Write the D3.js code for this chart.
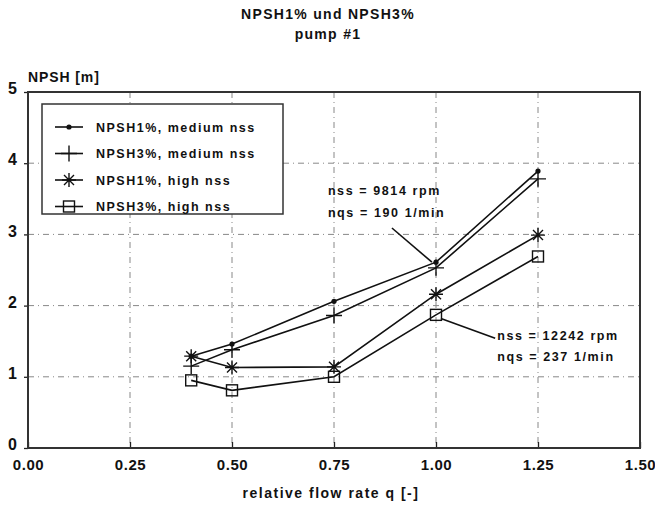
<!DOCTYPE html>
<html><head><meta charset="utf-8">
<script src="https://cdn.jsdelivr.net/npm/d3@7"></script>
<style>
body{margin:0;background:#fff;}
text{font-family:"Liberation Sans",Arial,sans-serif;font-weight:bold;fill:#111;}
</style></head><body>
<svg id="c" width="655" height="507"></svg>
<script>
const flowRates = [0.4, 0.5, 0.75, 1.0, 1.25];
const npsh1Medium = [1.29, 1.46, 2.06, 2.61, 3.89];
const npsh3Medium = [1.15, 1.38, 1.86, 2.53, 3.78];
const npsh1High = [1.29, 1.13, 1.14, 2.16, 2.99];
const npsh3High = [0.95, 0.81, 1.00, 1.87, 2.69];
const seriesNames = ["NPSH1%, medium nss", "NPSH3%, medium nss", "NPSH1%, high nss", "NPSH3%, high nss"];
const seriesMarkers = ["dot", "plus", "star", "square"];
const xTicks = [0, 0.25, 0.5, 0.75, 1.0, 1.25, 1.5];
const yTicks = [0, 1, 2, 3, 4, 5];

const svg = d3.select("#c");
const L = 28, R = 640, T = 92, B = 448;
const x = d3.scaleLinear().domain([0, 1.5]).range([L, R]);
const y = d3.scaleLinear().domain([0, 5]).range([B, T]);

// titles
svg.append("text").attr("x", 328).attr("y", 19).attr("text-anchor", "middle")
  .style("font-size", "14px").style("letter-spacing", "1.3px").text("NPSH1% und NPSH3%");
svg.append("text").attr("x", 328).attr("y", 39).attr("text-anchor", "middle")
  .style("font-size", "14px").style("letter-spacing", "1.3px").text("pump #1");
svg.append("text").attr("x", 28).attr("y", 82)
  .style("font-size", "14px").style("letter-spacing", "0.9px").text("NPSH [m]");
svg.append("text").attr("x", 331).attr("y", 498).attr("text-anchor", "middle")
  .style("font-size", "14px").style("letter-spacing", "1.5px").text("relative flow rate q [-]");

// grid
const g = svg.append("g");
g.selectAll(".gx").data(xTicks.filter(d => d > 0 && d < 1.5)).enter().append("line")
  .attr("x1", d => x(d)).attr("x2", d => x(d)).attr("y1", T).attr("y2", B)
  .attr("stroke", "#888").attr("stroke-width", 1).attr("stroke-dasharray", "6,4,1,4");
g.selectAll(".gy").data(yTicks.filter(d => d > 0 && d < 5)).enter().append("line")
  .attr("x1", L).attr("x2", R).attr("y1", d => y(d)).attr("y2", d => y(d))
  .attr("stroke", "#888").attr("stroke-width", 1).attr("stroke-dasharray", "6,4,1,4");

// axes via d3
const xAxis = d3.axisBottom(x).tickValues(xTicks).tickFormat(d3.format(".2f")).tickSize(-6).tickPadding(11);
const xa = svg.append("g").attr("transform", `translate(0,${B})`).call(xAxis);
xa.select(".domain").remove();
xa.selectAll("line").attr("stroke", "#222").attr("stroke-width", 1.3);
xa.selectAll("text").style("font-size", "15px").style("letter-spacing", "0.6px").style("font-family", "Liberation Sans, Arial, sans-serif").style("font-weight", "bold").attr("fill", "#111");

const yAxis = d3.axisLeft(y).tickValues(yTicks).tickFormat(d3.format("d")).tickSize(4).tickPadding(7);
const ya = svg.append("g").attr("transform", `translate(${L},0)`).call(yAxis);
ya.select(".domain").remove();
ya.selectAll("line").attr("stroke", "#222").attr("stroke-width", 1.3);
ya.selectAll("text").style("font-size", "16px").style("font-family", "Liberation Sans, Arial, sans-serif").style("font-weight", "bold").attr("fill", "#111").attr("dy", "0.1em");

// frame
svg.append("rect").attr("x", L).attr("y", T).attr("width", R - L).attr("height", B - T)
  .attr("fill", "none").attr("stroke", "#333").attr("stroke-width", 2);

// marker drawer
function marker(sel, type, cx, cy) {
  const p = sel.append("g").attr("transform", `translate(${cx},${cy})`);
  if (type === "dot") {
    p.append("circle").attr("r", 2.6).attr("fill", "#111");
  } else if (type === "plus") {
    p.append("path").attr("d", "M-8,0H8M0,-8V8").attr("stroke", "#111").attr("stroke-width", 1.4);
  } else if (type === "star") {
    p.append("path").attr("d", "M-7,0H7M0,-7V7M-5,-5L5,5M-5,5L5,-5").attr("stroke", "#111").attr("stroke-width", 1.4);
  } else if (type === "square") {
    p.append("rect").attr("x", -5.5).attr("y", -5.5).attr("width", 11).attr("height", 11)
      .attr("fill", "none").attr("stroke", "#111").attr("stroke-width", 1.4);
  }
}

// series
const allSeries = [npsh1Medium, npsh3Medium, npsh1High, npsh3High];
const line = d3.line().x(d => x(d[0])).y(d => y(d[1]));
allSeries.forEach((vals, i) => {
  const pts = flowRates.map((f, j) => [f, vals[j]]);
  svg.append("path").datum(pts).attr("d", line).attr("fill", "none")
    .attr("stroke", "#111").attr("stroke-width", 1.6);
  const mg = svg.append("g");
  pts.forEach(p => marker(mg, seriesMarkers[i], x(p[0]), y(p[1])));
});

// annotations
const ann = svg.append("g");
ann.append("line").attr("x1", x(0.892)).attr("y1", y(3.09)).attr("x2", x(0.99)).attr("y2", y(2.61))
  .attr("stroke", "#111").attr("stroke-width", 1.6);
ann.append("line").attr("x1", x(1.012)).attr("y1", y(1.82)).attr("x2", x(1.145)).attr("y2", y(1.54))
  .attr("stroke", "#111").attr("stroke-width", 1.6);
const annStyle = s => s.style("font-size", "12.5px").style("letter-spacing", "1.6px");
annStyle(ann.append("text").attr("x", x(0.735)).attr("y", y(3.55)).text("nss = 9814 rpm"));
annStyle(ann.append("text").attr("x", x(0.735)).attr("y", y(3.24)).text("nqs = 190 1/min"));
annStyle(ann.append("text").attr("x", x(1.15)).attr("y", y(1.52)).text("nss = 12242 rpm"));
annStyle(ann.append("text").attr("x", x(1.15)).attr("y", y(1.22)).text("nqs = 237 1/min"));

// legend
const lg = svg.append("g");
lg.append("rect").attr("x", 42).attr("y", 104).attr("width", 241).attr("height", 110)
  .attr("fill", "#fff").attr("stroke", "#333").attr("stroke-width", 1.5);
seriesNames.forEach((name, i) => {
  const cy = 127 + i * 26.5;
  lg.append("line").attr("x1", 55).attr("x2", 83).attr("y1", cy).attr("y2", cy)
    .attr("stroke", "#111").attr("stroke-width", 1.6);
  marker(lg, seriesMarkers[i], 69, cy);
  lg.append("text").attr("x", 96).attr("y", cy + 4.5).style("font-size", "12.5px")
    .style("letter-spacing", "1.5px").text(name);
});
</script></body></html>
